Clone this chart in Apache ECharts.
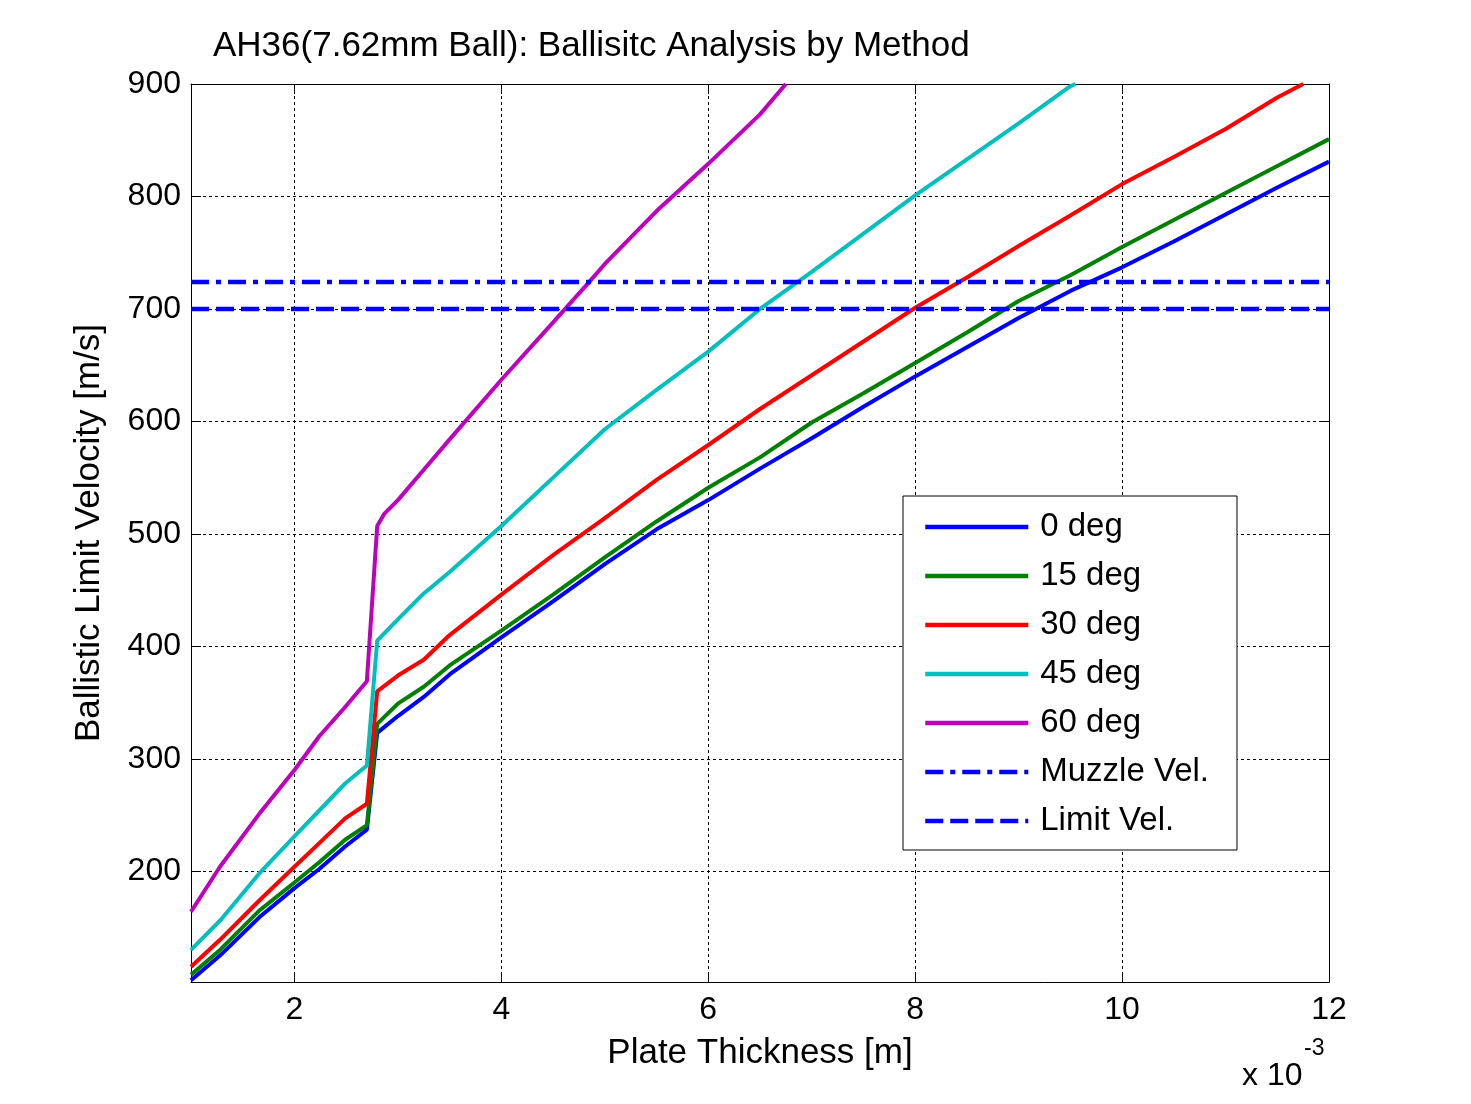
<!DOCTYPE html>
<html><head><meta charset="utf-8">
<script src="https://cdn.jsdelivr.net/npm/echarts@6/dist/echarts.min.js"></script>
<style>html,body{margin:0;padding:0;background:#fff}#c{width:1471px;height:1104px}</style>
</head><body><div id="c"></div>
<script>
// Plate thickness in units of 1e-3 m, ballistic limit velocity in m/s
const xTicks = [2, 4, 6, 8, 10, 12];
const yTicks = [200, 300, 400, 500, 600, 700, 800, 900];
const xRange = [1, 12];
const yRange = [101.5, 900];

const deg0 = [[1,103],[1.28,125],[1.66,159],[2,185],[2.24,202],[2.49,222],[2.7,237],[2.8,323],[3,338],[3.25,355],[3.5,375],[4,408],[4.5,440],[5,473],[5.5,504],[6,530],[6.5,558],[7,585],[7.5,613],[8,640],[8.5,666],[9,692],[9.5,716],[10,737],[10.5,760],[11,784],[11.5,808],[12,831]];
const deg15 = [[1,108],[1.28,130],[1.66,165],[2,190],[2.24,208],[2.49,228],[2.7,241],[2.8,331],[3,349],[3.25,364],[3.5,383],[4,414],[4.5,446],[5,479],[5.5,511],[6,541],[6.5,568],[7,599],[7.5,625],[8,652],[8.5,679],[9,707],[9.5,730],[10,755],[10.5,779],[11,803],[11.5,827],[12,851]];
const deg30 = [[1,115],[1.28,139],[1.66,174],[2,204],[2.24,225],[2.49,247],[2.7,260],[2.8,360],[3,374],[3.25,388],[3.5,410],[4,446],[4.5,481],[5,514],[5.5,548],[6,579],[6.5,611],[7,641],[7.5,671],[8,701],[8.5,728],[9,756],[9.5,783],[10,811],[10.5,835],[11,860],[11.5,888],[11.75,900]];
const deg45 = [[1,130],[1.28,156],[1.66,198],[2,231],[2.24,254],[2.49,278],[2.7,294],[2.8,405],[3,424],[3.25,447],[3.5,466],[4,507],[4.5,550],[5,593],[5.5,628],[6,662],[6.5,700],[7,733],[7.5,767],[8,801],[8.5,833],[9,865],[9.5,898],[9.55,900]];
const deg60 = [[1,164],[1.28,204],[1.66,251],[2,290],[2.24,320],[2.49,346],[2.7,369],[2.8,507],[2.87,518],[3,530],[3.25,557],[3.5,584],[4,637],[4.5,688],[4.85,724],[5,740],[5.5,787],[6,829],[6.5,873],[6.75,900]];
const muzzleVel = 724;
const limitVel = 700;

const FONT = '"Liberation Sans", Arial, sans-serif';
const chart = echarts.init(document.getElementById('c'), null, {renderer: 'canvas'});

function curve(name, data, color) {
  return {name, type: 'line', data, symbol: 'none', showSymbol: false,
    lineStyle: {color, width: 4}, itemStyle: {color}, animation: false, z: 3};
}
function hline(name, v, type) {
  return {name, type: 'line', data: [[xRange[0], v], [xRange[1], v]], symbol: 'none',
    lineStyle: {color: '#0000ff', width: 4.5, type}, itemStyle: {color: '#0000ff'}, animation: false, z: 3};
}

const gridLine = {show: true, lineStyle: {color: '#000', width: 1, type: [3, 3]}};
const axisLine = {show: true, onZero: false, lineStyle: {color: '#000', width: 1}};

chart.setOption({
  backgroundColor: '#fff',
  animation: false,
  title: {
    text: 'AH36(7.62mm Ball): Ballisitc Analysis by Method',
    left: 213, top: 29, padding: 0,
    textStyle: {fontFamily: FONT, fontSize: 35, fontWeight: 'normal', color: '#000'}
  },
  grid: {left: 191, right: 142, top: 84, bottom: 122, containLabel: false},
  xAxis: [{
    type: 'value', min: xRange[0], max: xRange[1], position: 'bottom',
    name: 'Plate Thickness [m]', nameLocation: 'middle', nameGap: 54,
    nameTextStyle: {fontFamily: FONT, fontSize: 35, color: '#000'},
    axisLine, axisTick: {show: true, inside: true, length: 10, customValues: xTicks, lineStyle: {color: '#000'}},
    axisLabel: {customValues: xTicks, fontFamily: FONT, fontSize: 32, color: '#000', margin: 12},
    splitLine: gridLine
  }, {
    type: 'value', min: xRange[0], max: xRange[1], position: 'top',
    axisLine, axisTick: {show: true, inside: true, length: 10, customValues: xTicks, lineStyle: {color: '#000'}},
    axisLabel: {show: false}, splitLine: {show: false}
  }],
  yAxis: [{
    type: 'value', min: yRange[0], max: yRange[1], position: 'left',
    name: 'Ballistic Limit Velocity [m/s]', nameLocation: 'middle', nameGap: 84, nameRotate: 90,
    nameTextStyle: {fontFamily: FONT, fontSize: 35, color: '#000'},
    axisLine, axisTick: {show: true, inside: true, length: 10, customValues: yTicks, lineStyle: {color: '#000'}},
    axisLabel: {customValues: yTicks, fontFamily: FONT, fontSize: 32, color: '#000', margin: 10},
    splitLine: gridLine
  }, {
    type: 'value', min: yRange[0], max: yRange[1], position: 'right',
    axisLine, axisTick: {show: true, inside: true, length: 10, customValues: yTicks, lineStyle: {color: '#000'}},
    axisLabel: {show: false}, splitLine: {show: false}
  }],
  legend: {
    orient: 'vertical', left: 903, top: 496,
    padding: [14, 28, 12, 20],
    backgroundColor: '#fff', borderColor: '#000', borderWidth: 1,
    itemWidth: 103, itemHeight: 14, itemGap: 15,
    lineStyle: {width: 4.5},
    itemStyle: {opacity: 0},
    textStyle: {fontFamily: FONT, fontSize: 33, lineHeight: 34, color: '#000', padding: [0, 0, 0, 7]},
    data: ['0 deg', '15 deg', '30 deg', '45 deg', '60 deg', 'Muzzle Vel.', 'Limit Vel.'],
    selectedMode: false, z: 10
  },
  series: [
    curve('0 deg', deg0, '#0000ff'),
    curve('15 deg', deg15, '#008000'),
    curve('30 deg', deg30, '#ff0000'),
    curve('45 deg', deg45, '#00bfbf'),
    curve('60 deg', deg60, '#bf00bf'),
    hline('Muzzle Vel.', muzzleVel, [18, 7, 5, 7]),
    hline('Limit Vel.', limitVel, [18, 7])
  ],
  graphic: [
    {type: 'text', left: 1242, top: 1060, style: {text: 'x 10', font: '32px ' + FONT, fill: '#000'}},
    {type: 'text', left: 1304, top: 1037, style: {text: '-3', font: '23px ' + FONT, fill: '#000'}}
  ]
});
</script>
</body></html>
